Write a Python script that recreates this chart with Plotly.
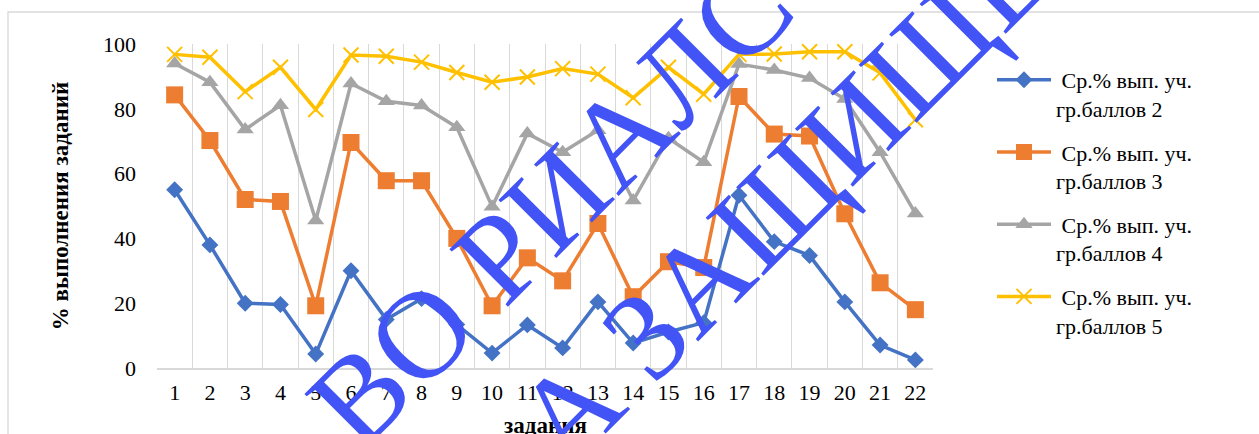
import plotly.graph_objects as go

# Task numbers (x axis)
tasks = list(range(1, 23))

# Average completion, % — by score group
grp2 = [55, 38, 20, 19.6, 4.3, 30, 15, 21.4, 13.4, 4.6, 13.3, 6.2,
        20.4, 7.7, 11.1, 14, 53.3, 39, 34.7, 20.4, 7.1, 2.5]
grp3 = [84.3, 70.2, 52, 51.4, 19.2, 69.6, 57.8, 57.8, 40, 19.2, 34, 26.9,
        44.6, 22, 32.8, 31, 83.8, 72.2, 71.6, 47.6, 26.3, 18]
grp4 = [94, 88.2, 73.6, 81.1, 45.5, 87.8, 82.3, 81, 74.3, 49.8, 72.4, 66.6,
        73.4, 51.7, 70.9, 63.5, 93.8, 92, 89.5, 83, 66.6, 47.7]
grp5 = [96.8, 95.9, 85.3, 92.8, 79.8, 96.6, 96.2, 94.4, 91.2, 88.2, 89.8, 92.4,
        90.7, 83.4, 92.8, 84.5, 96.8, 96.9, 97.6, 97.6, 91.1, 76.6]

series_names = [
    "\u00a0Ср.% вып. уч.<br>гр.баллов 2",
    "\u00a0Ср.% вып. уч.<br>гр.баллов 3",
    "\u00a0Ср.% вып. уч.<br>гр.баллов 4",
    "\u00a0Ср.% вып. уч.<br>гр.баллов 5",
]

y_ticks = [0, 20, 40, 60, 80, 100]

FONT = "Liberation Serif"

# plot area in pixels
L, R, T, B = 157, 933, 44, 368


def dx(px):
    return (px - L) / (R - L)


def dy(py):
    return (B - py) / (B - T)


fig = go.Figure()

styles = [
    dict(color="#4472C4", symbol="diamond", size=13),
    dict(color="#ED7D31", symbol="square", size=17),
    dict(color="#A5A5A5", symbol="triangle-up", size=15),
    dict(color="#FFC000", symbol="x-thin", size=15),
]

for i, (vals, name, st) in enumerate(zip([grp2, grp3, grp4, grp5], series_names, styles)):
    marker = dict(symbol=st["symbol"], size=st["size"], color=st["color"])
    if st["symbol"] == "x-thin":
        marker["line"] = dict(color=st["color"], width=2)
    fig.add_trace(go.Scatter(
        x=tasks, y=vals, mode="lines+markers", name=name,
        line=dict(color=st["color"], width=3.5),
        marker=marker, legendgroup=f"g{i}", cliponaxis=False,
    ))

# x axis title
fig.add_annotation(text="<b>задания</b>", x=0.5, y=dy(425), xref="x domain", yref="y domain",
                   xanchor="center", yanchor="middle", showarrow=False,
                   font=dict(family=FONT, size=23, color="black"))

# Diagonal overlay lettering
wm_font = dict(family="Liberation Serif", size=125, color="#4254F5", weight="normal")
for txt, px, py in [("ВО РИАЛС", 550, 205), ("А ЗАЩИЩЕ", 782, 198)]:
    fig.add_annotation(text=txt, x=dx(px), y=dy(py), xref="x domain", yref="y domain",
                       xanchor="center", yanchor="middle",
                       showarrow=False, textangle=-45, font=wm_font)

# Chart frame
fig.add_shape(type="rect", xref="paper", yref="paper",
              x0=dx(8), x1=dx(1300), y0=dy(460), y1=dy(12),
              line=dict(color="#D9D9D9", width=1.3), fillcolor="rgba(0,0,0,0)",
              layer="below")

fig.update_layout(
    width=1259, height=434,
    margin=dict(l=L, r=1259 - R, t=T, b=434 - B, autoexpand=False),
    paper_bgcolor="white", plot_bgcolor="white",
    font=dict(family=FONT, size=22, color="black"),
    showlegend=True,
    legend=dict(x=dx(992), xanchor="left", y=dy(59), yanchor="top",
                font=dict(family=FONT, size=22, color="black"),
                itemwidth=54,
                tracegroupgap=12, valign="top", bgcolor="rgba(0,0,0,0)"),
    xaxis=dict(
        range=[0.5, 22.5], tickmode="array", tickvals=tasks,
        ticktext=[str(t) for t in tasks], showgrid=False, zeroline=False,
        showline=True, linecolor="#D9D9D9", linewidth=1.5, ticks="",
        ticklabelstandoff=4,
        minor=dict(tickmode="linear", tick0=0.5, dtick=1, showgrid=True,
                   gridcolor="#D9D9D9", gridwidth=1.3, ticks=""),
        automargin=False,
    ),
    yaxis=dict(
        range=[0, 100], tickmode="array", tickvals=y_ticks, showgrid=False,
        zeroline=False, showline=False, ticks="", ticklabelstandoff=20,
        title=dict(text="<b>% выполнения заданий</b>", font=dict(size=23), standoff=27),
        automargin=False,
    ),
)

fig.write_html("out.html")
